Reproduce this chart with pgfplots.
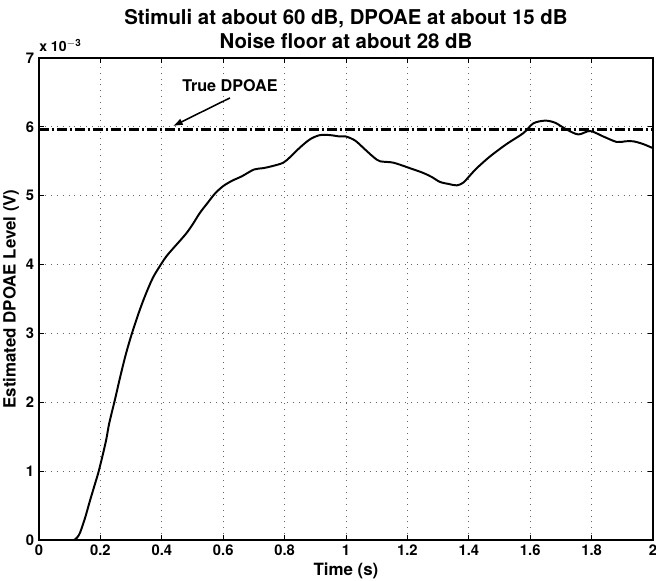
\documentclass[border=0pt]{standalone}
\usepackage{pgfplots}
\pgfplotsset{compat=1.18}
\usetikzlibrary{arrows.meta}
\usepackage{fontspec}
\setmainfont{TeX Gyre Heros}

\begin{document}
\begin{tikzpicture}
\begin{axis}[
  scale only axis, width=15.35cm, height=12.05cm,
  xmin=0, xmax=2, ymin=0, ymax=7,
  xtick={0,0.2,...,2}, ytick={0,1,...,7},
  xticklabels={0,0.2,0.4,0.6,0.8,1,1.2,1.4,1.6,1.8,2},
  yticklabels={0,1,2,3,4,5,6,7},
  tick align=inside, tick pos=both,
  major tick length=3.8pt,
  tick style={black, line width=0.5pt},
  axis line style={black, line width=0.8pt},
  grid=major,
  major grid style={gray!80!black, line width=0.5pt, dash pattern=on 0.6pt off 3.6pt},
  tick label style={font=\bfseries\fontsize{10.5}{12}\selectfont},
  title={Stimuli at about 60 dB, DPOAE at about 15 dB\\Noise floor at about 28 dB},
  title style={at={(0.5,1)}, anchor=south, inner sep=0pt, yshift=0.5pt,
    align=center, font=\bfseries\fontsize{14.5}{17}\selectfont},
  xlabel={Time (s)},
  ylabel={Estimated DPOAE Level (V)},
  label style={font=\bfseries\fontsize{12}{14}\selectfont},
  xlabel style={yshift=2pt},
  ylabel style={yshift=-2pt},
  clip=true,
]
% true DPOAE level
\addplot[black, line width=1.8pt, dash pattern=on 7pt off 2.2pt on 1.4pt off 2.2pt]
  coordinates {(0,5.965) (2,5.965)};
% estimated level (units of 1e-3 V)
\addplot[black, line width=1.4pt, smooth, tension=0.5] coordinates {
(0,0) (0.10,0) (0.114,0) (0.125,0.04) (0.134,0.11) (0.15,0.32) (0.166,0.57)
(0.18,0.78) (0.194,0.99) (0.21,1.28) (0.220,1.48) (0.229,1.70) (0.248,2.05)
(0.264,2.36) (0.283,2.70) (0.302,2.99) (0.325,3.30) (0.345,3.54) (0.37,3.80)
(0.394,3.98) (0.415,4.12) (0.438,4.24) (0.46,4.35) (0.481,4.46) (0.50,4.58)
(0.524,4.75) (0.55,4.90) (0.573,5.03) (0.60,5.14) (0.63,5.22) (0.66,5.28)
(0.70,5.38) (0.73,5.40) (0.76,5.43) (0.796,5.48) (0.82,5.57) (0.85,5.70)
(0.883,5.82) (0.915,5.88) (0.948,5.88) (0.98,5.86) (1.0,5.86) (1.03,5.80)
(1.06,5.68) (1.09,5.56) (1.111,5.50) (1.154,5.48) (1.208,5.40) (1.252,5.33)
(1.28,5.27) (1.306,5.20) (1.335,5.17) (1.361,5.15) (1.382,5.19) (1.405,5.30)
(1.426,5.40) (1.469,5.57) (1.523,5.75) (1.578,5.91) (1.61,6.05) (1.648,6.09)
(1.681,6.06) (1.719,5.96) (1.757,5.89) (1.795,5.94) (1.838,5.86) (1.882,5.78)
(1.91,5.79) (1.936,5.79) (1.968,5.75) (2.0,5.69)
};
\draw[-{Latex[length=7pt,width=5pt]}, line width=1.1pt] (axis cs:0.622,6.42) -- (axis cs:0.436,6.01);
\node[font=\bfseries\fontsize{11.5}{13}\selectfont] at (axis cs:0.622,6.60) {True DPOAE};
\coordinate (sw) at (rel axis cs:0,0);
\coordinate (ne) at (rel axis cs:1,1);
\end{axis}
\node[anchor=base west, inner sep=0pt, font=\bfseries\fontsize{10}{12}\selectfont]
  at ([yshift=4.4pt]sw |- ne) {x 10\textsuperscript{$-$3}};
\pgfresetboundingbox
\path ([shift={(-0.975cm,-1.025cm)}]sw) rectangle ([shift={(0.075cm,1.45cm)}]ne);
\end{tikzpicture}
\end{document}
